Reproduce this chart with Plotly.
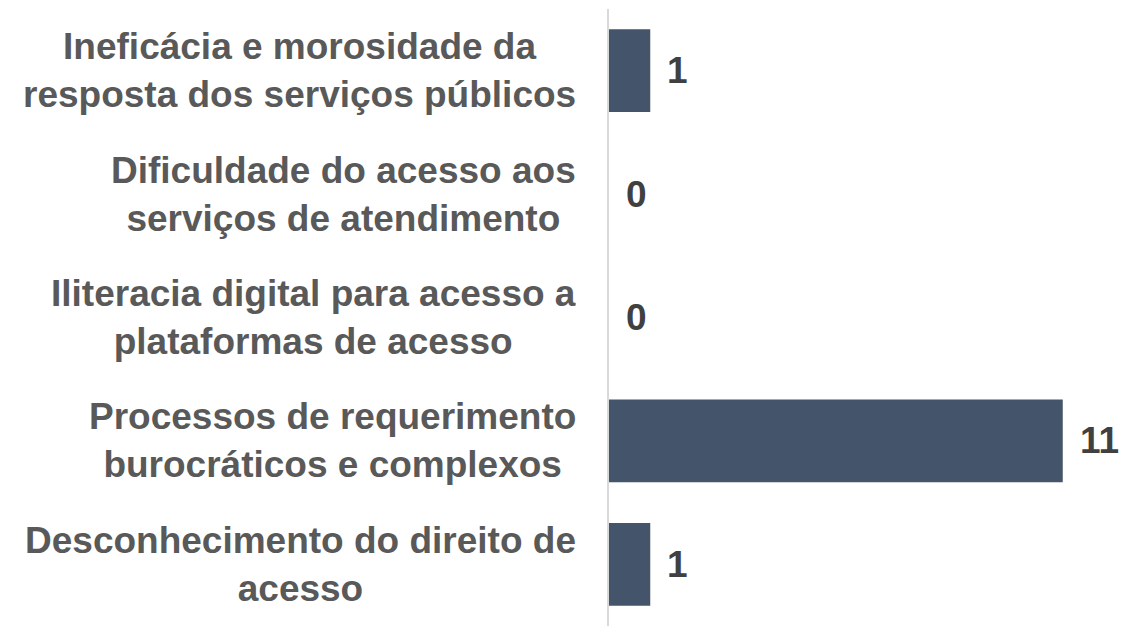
import plotly.graph_objects as go

categories = [
    "Ineficácia e morosidade da<br>resposta dos serviços públicos",
    "Dificuldade do acesso aos<br>serviços de atendimento",
    "Iliteracia digital para acesso a<br>plataformas de acesso",
    "Processos de requerimento<br>burocráticos e complexos",
    "Desconhecimento do direito de<br>acesso",
]
values = [1, 0, 0, 11, 1]

BAR_COLOR = "#44546A"
LABEL_FONT = "Liberation Sans, Arial, sans-serif"

fig = go.Figure(go.Bar(
    x=values,
    y=categories,
    orientation="h",
    marker=dict(color=BAR_COLOR, line=dict(width=0)),
    hoverinfo="x+y",
))

for cat, val in zip(categories, values):
    # category label, lines centred like the original
    fig.add_annotation(
        x=0, xref="paper", y=cat,
        text=f"<b>{cat}</b>",
        xanchor="right", yanchor="middle", align="center",
        xshift=-31,
        showarrow=False,
        font=dict(family=LABEL_FONT, size=37, color="#595959"),
    )
    # value label just past the bar end
    fig.add_annotation(
        x=val, y=cat,
        text=f"<b>{val}</b>",
        xanchor="left", yanchor="middle",
        xshift=15,
        showarrow=False,
        font=dict(family=LABEL_FONT, size=37, color="#404040"),
    )

# the page body keeps its default 8px margin, so the figure is sized to fit
fig.update_layout(
    width=1120, height=620,
    margin=dict(l=601, r=24, t=1, b=2),
    paper_bgcolor="white",
    plot_bgcolor="white",
    bargap=0.33,
    showlegend=False,
    xaxis=dict(
        range=[0, 12],
        visible=False,
        showgrid=False,
        zeroline=False,
    ),
    yaxis=dict(
        autorange="reversed",
        showgrid=False,
        zeroline=False,
        showline=True,
        linecolor="#D9D9D9",
        linewidth=2,
        ticks="",
        showticklabels=False,
    ),
)

fig.write_html("out.html")
